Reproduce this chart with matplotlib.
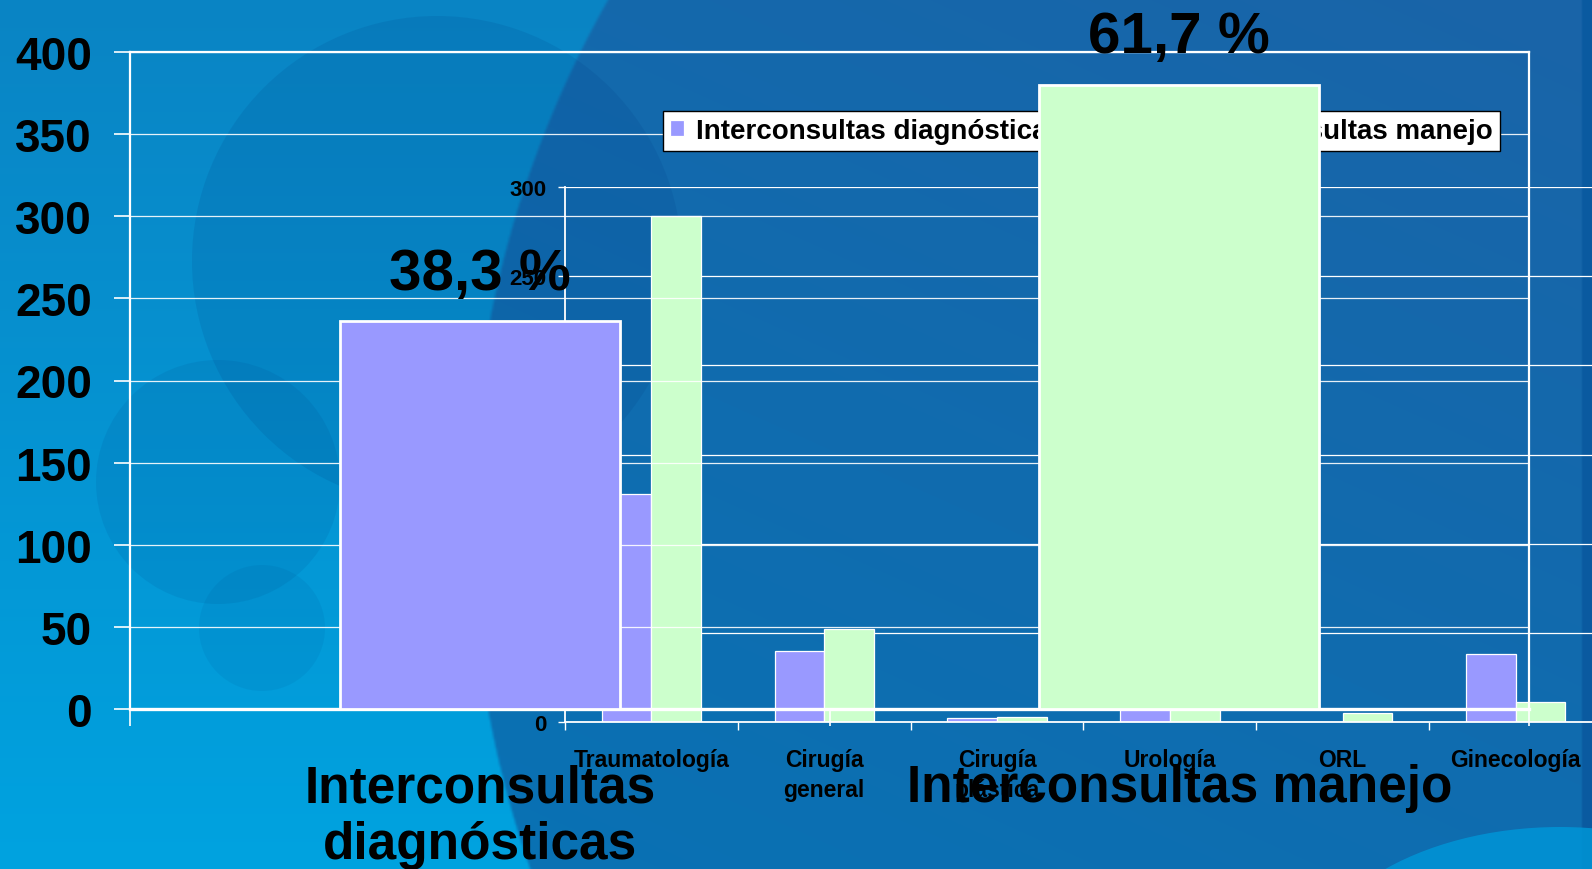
import numpy as np
import matplotlib
matplotlib.use('Agg')
import matplotlib.pyplot as plt
from matplotlib.patches import Circle, Ellipse
from matplotlib.colors import to_rgb

# ---------------- data ----------------
categories_inner = ['Traumatología', 'Cirugía\ngeneral', 'Cirugía\nplástica',
                    'Urología', 'ORL', 'Ginecología']
diagnosticas_inner = [128, 40, 2, 28, 0, 38]
manejo_inner = [284, 52, 3, 25, 5, 11]
series_names = ['Interconsultas diagnósticas', 'Interconsultas manejo']

categories_outer = ['Interconsultas\ndiagnósticas', 'Interconsultas manejo']
totals_outer = [236, 380]
percent_labels = ['38,3 %', '61,7 %']

outer_yticks = [0, 50, 100, 150, 200, 250, 300, 350, 400]
inner_yticks = [0, 50, 100, 150, 200, 250, 300]

# ---------------- style ----------------
plt.rcParams['font.family'] = ['Liberation Sans', 'DejaVu Sans']
plt.rcParams['font.weight'] = 'bold'
PURPLE = '#9999FF'
GREEN = '#CCFFCC'

W, H = 1592, 870
fig = plt.figure(figsize=(W / 100, H / 100), dpi=100)

# ---------------- background ----------------
ax_bg = fig.add_axes([0, 0, 1, 1], zorder=0)
ys, xs = np.mgrid[0:H:2, 0:W:2].astype(float)


def lerp(a, b, t):
    a = np.array(to_rgb(a)); b = np.array(to_rgb(b))
    return a[None, None, :] * (1 - t[..., None]) + b[None, None, :] * t[..., None]


left = lerp('#0a84c4', '#00a3e0', ys / H)
t_in = np.clip(0.55 * (1 - ys / H) + 0.45 * (xs / W), 0, 1)
inside = lerp('#0674b6', '#1a64a8', t_in)
dist = np.hypot(xs - 1525, ys - 520)
m = np.clip((1055 - dist) / 3 + 0.5, 0, 1)
img = left * (1 - m[..., None]) + inside * m[..., None]
img[xs > 1581] = to_rgb('#0a5aa0')
ax_bg.imshow(img, extent=(0, W, H, 0), interpolation='bilinear', aspect='auto')
ax_bg.add_patch(Circle((437, 262), 245, color='#003a80', alpha=0.13, lw=0))
ax_bg.add_patch(Circle((218, 483), 122, color='#003a80', alpha=0.10, lw=0))
ax_bg.add_patch(Circle((262, 629), 63, color='#003a80', alpha=0.08, lw=0))
ax_bg.add_patch(Ellipse((1560, 990), 520, 324, color='#0095d6', alpha=0.85, lw=0))
ax_bg.set_xlim(0, W)
ax_bg.set_ylim(H, 0)
ax_bg.axis('off')

# ---------------- inner chart ----------------
ax_in = fig.add_axes([565 / W, 1 - 723 / H, (1602 - 565) / W, (723 - 188) / H], zorder=1)
ax_in.patch.set_alpha(0)
x = np.arange(len(categories_inner))
bw = 0.2875
b1 = ax_in.bar(x - bw / 2, diagnosticas_inner, bw, color=PURPLE,
               edgecolor='white', linewidth=0.9, zorder=2)
b2 = ax_in.bar(x + bw / 2, manejo_inner, bw, color=GREEN,
               edgecolor='white', linewidth=0.9, zorder=2)
ax_in.set_xlim(-0.5, len(categories_inner) - 0.5)
ax_in.set_ylim(0, 300)
ax_in.set_yticks(inner_yticks)
ax_in.set_axisbelow(True)
ax_in.yaxis.grid(True, color='white', lw=0.9)
ax_in.set_xticks(np.arange(-0.5, len(categories_inner), 1.0))
ax_in.set_xticklabels([])
ax_in.set_xticks(x, minor=True)
ax_in.set_xticklabels(categories_inner, minor=True, fontsize=16.5,
                      fontweight='bold', linespacing=1.35)
ax_in.tick_params(axis='x', which='major', length=6, width=1, color='white', direction='out')
ax_in.tick_params(axis='x', which='minor', length=0, pad=19)
ax_in.tick_params(axis='y', length=5, width=1, color='white', pad=8.3, labelsize=16)
for s in ['top', 'right']:
    ax_in.spines[s].set_visible(False)
for s in ['left', 'bottom']:
    ax_in.spines[s].set_color('white')
    ax_in.spines[s].set_linewidth(1.3)

# ---------------- outer chart ----------------
ax_out = fig.add_axes([130 / W, 1 - 710 / H, (1529 - 130) / W, (710 - 53) / H], zorder=2)
ax_out.patch.set_alpha(0)
xo = np.arange(len(categories_outer))
bars_out = ax_out.bar(xo, totals_outer, 0.40, color=[PURPLE, GREEN],
                      edgecolor='white', linewidth=2, zorder=3)
ax_out.set_xlim(-0.5, len(categories_outer) - 0.5)
ax_out.set_ylim(0, 400)
ax_out.set_yticks(outer_yticks)
ax_out.set_axisbelow(True)
ax_out.yaxis.grid(True, color='white', lw=0.9, alpha=0.9)
ax_out.set_xticks(np.arange(-0.5, len(categories_outer), 1.0))
ax_out.set_xticklabels([])
ax_out.set_xticks(xo, minor=True)
ax_out.set_xticklabels(categories_outer, minor=True, fontsize=37,
                       fontweight='bold', linespacing=1.2)
ax_out.tick_params(axis='x', which='major', length=12, width=1.2, color='white', direction='out')
ax_out.tick_params(axis='x', which='minor', length=0, pad=39)
ax_out.tick_params(axis='y', length=11.5, width=1.2, color='white', pad=16, labelsize=33)
for s in ax_out.spines.values():
    s.set_color('white')
    s.set_linewidth(1.6)
ax_out.spines['bottom'].set_linewidth(2.4)

labels = ax_out.bar_label(bars_out, labels=percent_labels, padding=15,
                          fontsize=42, fontweight='bold', color='black')
for t in labels:
    t.set_zorder(5)

leg = ax_out.legend([b1, b2], series_names, ncol=2, mode='expand', loc='upper left',
                    bbox_to_anchor=(663 / W, 1 - 153 / H, (1500 - 663) / W, 41 / H),
                    bbox_transform=fig.transFigure, borderaxespad=0, fancybox=False,
                    framealpha=1, edgecolor='black', facecolor='white',
                    prop=dict(size=20, weight='bold'), handlelength=0.52,
                    handleheight=0.52, handletextpad=0.4, borderpad=0.25)
leg.get_frame().set_linewidth(1)
leg.set_zorder(2)

fig.savefig('out.png', dpi=100)
